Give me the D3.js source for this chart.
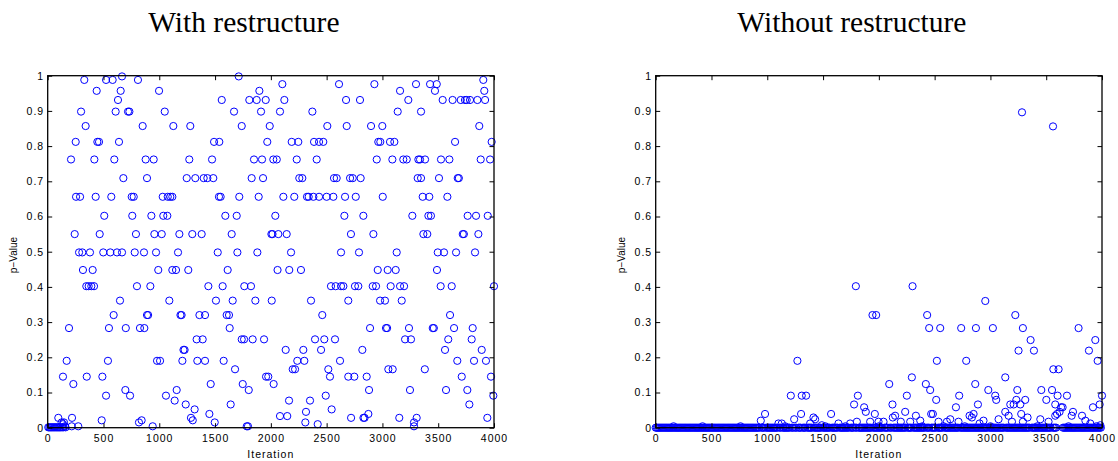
<!DOCTYPE html>
<html>
<head>
<meta charset="utf-8">
<script src="https://cdn.jsdelivr.net/npm/d3@7"></script>
<style>
  body { margin: 0; background: #fff; }
  svg { display: block; }
  .tick text {
    font-family: "Liberation Sans", Arial, sans-serif;
    font-size: 10.5px;
    letter-spacing: 1px;
    fill: #000;
  }
</style>
</head>
<body>
<svg id="chart" width="1118" height="461"></svg>
<script>
const xTicks = [0, 500, 1000, 1500, 2000, 2500, 3000, 3500, 4000];
const xTickLabels = ["0", "500", "1000", "1500", "2000", "2500", "3000", "3500", "4000"];
const yTicks = [0, 0.1, 0.2, 0.3, 0.4, 0.5, 0.6, 0.7, 0.8, 0.9, 1];
const yTickLabels = ["0", "0.1", "0.2", "0.3", "0.4", "0.5", "0.6", "0.7", "0.8", "0.9", "1"];
const titles = ["With restructure", "Without restructure"];

// rows of [p-value, iterations]
const withRows = [
  [0.998, [666, 1712]],
  [0.988, [328, 523, 582, 809, 3904]],
  [0.976, [2103, 2611, 2928, 3301, 3427, 3487]],
  [0.957, [439, 654, 998, 1897, 3158, 3471, 3913]],
  [0.931, [630, 1560, 1807, 1873, 1954, 2121, 2674, 2799, 3232, 3540, 3629, 3702, 3740, 3755, 3785, 3851, 3920]],
  [0.898, [299, 609, 720, 732, 1049, 1670, 1912, 2082, 2372, 3137, 3346]],
  [0.857, [340, 851, 1126, 1278, 1739, 1990, 2506, 2680, 2898, 2999, 3868]],
  [0.812, [251, 445, 460, 639, 1491, 1538, 1968, 2187, 2246, 2387, 2432, 2470, 2963, 2981, 3068, 3107, 3651, 3979]],
  [0.762, [209, 418, 597, 878, 950, 1269, 1473, 1849, 1921, 2022, 2053, 2232, 2411, 2949, 3089, 3187, 3218, 3322, 3337, 3382, 3525, 3600, 3881, 3965]],
  [0.709, [678, 890, 1246, 1323, 1398, 1431, 1484, 1828, 1930, 2255, 2282, 2566, 2590, 2710, 2734, 2805, 3316, 3346, 3507, 3675, 3685]],
  [0.656, [254, 290, 430, 570, 753, 771, 1031, 1076, 1099, 1117, 1535, 1550, 1717, 1891, 2112, 2210, 2324, 2339, 2381, 2432, 2500, 2560, 2665, 2761, 3003, 3361, 3420, 3582]],
  [0.602, [507, 758, 929, 1036, 1072, 1592, 1694, 2040, 2659, 2829, 3268, 3412, 3435, 3764, 3839, 3944]],
  [0.55, [242, 466, 791, 956, 1022, 1180, 1296, 1380, 1649, 2005, 2015, 2067, 2142, 2718, 2919, 3367, 3402, 3720, 3730, 3860]],
  [0.498, [281, 310, 379, 498, 561, 621, 666, 780, 863, 971, 1168, 1524, 1700, 1879, 2181, 2629, 2790, 3128, 3496, 3552, 3660, 3830]],
  [0.448, [316, 403, 991, 1117, 1150, 1260, 1613, 2060, 2165, 2270, 2958, 3047, 3119, 3489]],
  [0.402, [346, 367, 391, 415, 800, 920, 1440, 1568, 1762, 1822, 2539, 2581, 2629, 2650, 2754, 2784, 2913, 2943, 3074, 3158, 3194, 3522, 3621, 4000]],
  [0.361, [648, 1090, 1508, 1658, 1861, 2008, 2360, 2694, 2979, 3023, 3173]],
  [0.32, [591, 890, 900, 1190, 1200, 1360, 1410, 1604, 1625, 2461, 3606]],
  [0.283, [191, 549, 700, 827, 866, 1631, 2889, 3032, 3042, 3238, 3451, 3461, 3642, 3809]],
  [0.251, [1335, 1389, 1739, 1760, 1837, 1939, 2396, 2479, 2575, 3203, 3256, 3590, 3800]],
  [0.221, [1217, 1227, 2133, 2291, 2450, 2820, 3561, 3890]],
  [0.19, [170, 540, 980, 1007, 1207, 1341, 1410, 1577, 2237, 2300, 2620, 3671, 3821, 3928]],
  [0.166, [1679, 2196, 2217, 2515, 3053, 3092, 3380]],
  [0.145, [137, 350, 490, 1957, 1977, 2530, 2694, 2748, 2859, 3711, 3973]],
  [0.124, [230, 1461, 1748, 2025]],
  [0.107, [696, 1156, 1802, 2880, 3247, 3570, 3761]],
  [0.091, [523, 738, 1060, 2492, 3994]],
  [0.077, [1138, 2163, 2351]],
  [0.066, [1237, 1640, 3779]],
  [0.052, [1317, 2545]],
  [0.045, [2315]],
  [0.039, [1449, 2874]],
  [0.033, [2082, 2147]],
  [0.028, [95, 218, 1284, 2719, 2830, 2840, 3151, 3307, 3940]],
  [0.021, [484, 842, 1300]],
  [0.015, [125, 146, 818, 1497, 2309, 3283]],
  [0.01, [137, 2420]],
  [0.004, [155, 215, 274, 941, 1784, 1795, 3283]],
  [0.001, [5, 15, 25, 35, 45, 55, 65, 75, 85, 95, 105, 115, 128, 140, 160]]
];

const withoutRows = [
  [0.896, [3283]],
  [0.856, [3561]],
  [0.402, [1794, 2302]],
  [0.36, [2954]],
  [0.32, [1943, 1976, 2433, 3223]],
  [0.283, [2451, 2550, 2738, 2870, 3022, 3291, 3790]],
  [0.249, [3360, 3940]],
  [0.219, [3252, 3390, 3883]],
  [0.19, [1270, 2520, 2783, 3961]],
  [0.166, [3564, 3611]],
  [0.143, [2296, 3133]],
  [0.124, [2093, 2421, 2864]],
  [0.107, [2460, 2981, 3241, 3456, 3552]],
  [0.091, [1211, 1309, 1348, 1812, 2251, 2720, 3043, 3602, 3686, 4000]],
  [0.079, [2514, 3052, 3232, 3312, 3501]],
  [0.066, [1778, 2122, 2888, 3178, 3208, 3268, 3581, 3979]],
  [0.058, [1868, 2691, 3633, 3647, 3919]],
  [0.045, [1883, 2236, 3133, 3620, 3740]],
  [0.039, [980, 1303, 1572, 1964, 2469, 2484, 2849, 3276, 3597]],
  [0.034, [2146, 2332, 2813, 3163, 3581, 3728, 3821]],
  [0.029, [1414, 2125, 2834, 3333]],
  [0.024, [1241, 1429, 2640, 3073, 3447]],
  [0.02, [942, 2371, 2938, 3851]],
  [0.017, [1803, 1922, 1997, 2042, 2197, 2281, 2535, 2610, 2714, 3193, 3291, 3521]],
  [0.012, [1100, 1130, 1384, 1638, 1743, 2903, 3895]],
  [0.007, [1489, 3985]],
  [0.004, [160, 420, 760, 1160, 1520, 1700, 2000, 2390, 2580, 2770, 3000, 3420, 3700, 3950]],
  [0, [0, 10, 20, 30, 40, 50, 60, 70, 80, 90, 100, 110, 120, 130, 140, 150, 160, 170, 180, 190,
       200, 210, 220, 230, 240, 250, 260, 270, 280, 290, 300, 310, 320, 330, 340, 350, 360, 370, 380, 390,
       400, 410, 420, 430, 440, 450, 460, 470, 480, 490, 500, 510, 520, 530, 540, 550, 560, 570, 580, 590,
       600, 610, 620, 630, 640, 650, 660, 670, 680, 690, 700, 710, 720, 730, 740, 750, 760, 770, 780, 790,
       800, 810, 820, 830, 840, 850, 860, 870, 880, 890, 900, 910, 920, 930, 950, 960, 970, 990,
       1000, 1010, 1020, 1030, 1040, 1050, 1060, 1070, 1080, 1090, 1110, 1120, 1140, 1150, 1160, 1170, 1180, 1190,
       1200, 1220, 1230, 1250, 1260, 1280, 1290, 1300, 1320, 1330, 1340, 1360, 1370, 1380, 1390,
       1400, 1420, 1430, 1440, 1450, 1460, 1470, 1480, 1500, 1510, 1520, 1530, 1540, 1550, 1560, 1580, 1590,
       1600, 1610, 1620, 1630, 1650, 1660, 1670, 1680, 1690, 1700, 1710, 1720, 1730, 1750, 1760, 1770, 1790,
       1800, 1820, 1830, 1840, 1850, 1860, 1870, 1880, 1890, 1900, 1910, 1920, 1930, 1950, 1960, 1970, 1980, 1990,
       2000, 2010, 2020, 2030, 2050, 2060, 2070, 2080, 2100, 2110, 2130, 2140, 2150, 2160, 2170, 2180, 2190,
       2200, 2210, 2220, 2230, 2240, 2260, 2270, 2280, 2290, 2310, 2320, 2330, 2340, 2350, 2360, 2370, 2380, 2390,
       2400, 2410, 2430, 2440, 2450, 2470, 2480, 2490, 2500, 2510, 2530, 2540, 2550, 2560, 2570, 2590,
       2600, 2610, 2620, 2630, 2640, 2650, 2660, 2670, 2680, 2690, 2700, 2710, 2730, 2740, 2750, 2760, 2770, 2780, 2790,
       2800, 2810, 2820, 2830, 2840, 2850, 2860, 2870, 2880, 2890, 2900, 2910, 2920, 2930, 2940, 2950, 2960, 2970, 2990,
       3000, 3010, 3020, 3030, 3040, 3050, 3060, 3070, 3080, 3090, 3100, 3110, 3120, 3140, 3150, 3160, 3170, 3180, 3190,
       3200, 3210, 3220, 3230, 3240, 3250, 3260, 3270, 3280, 3290, 3300, 3310, 3320, 3330, 3340, 3350, 3370, 3380, 3390,
       3400, 3410, 3420, 3430, 3440, 3450, 3460, 3470, 3480, 3490, 3500, 3510, 3520, 3530, 3540, 3560, 3570, 3580, 3590,
       3650, 3660, 3670, 3680, 3690, 3700, 3710, 3720, 3730, 3740, 3750, 3760, 3770, 3780, 3790,
       3800, 3810, 3820, 3830, 3840, 3850, 3860, 3870, 3880, 3890, 3900, 3910, 3920, 3930, 3940, 3950, 3960, 3970, 3980, 3990]]
];

const plotW = 446.3, plotH = 352, plotTop = 75.7;
const panelLeft = [47.7, 655.7];

const svg = d3.select("#chart");
svg.append("rect").attr("width", 1118).attr("height", 461).attr("fill", "#fff");

function toPoints(rows) {
  return rows.flatMap(([p, its]) => its.map((it) => ({ it, p })));
}

function drawPanel(left, title, rows) {
  const x = d3.scaleLinear().domain([0, 4000]).range([left, left + plotW]);
  const y = d3.scaleLinear().domain([0, 1]).range([plotTop + plotH, plotTop]);
  const g = svg.append("g");

  g.append("g")
    .selectAll("circle")
    .data(toPoints(rows))
    .join("circle")
    .attr("cx", (d) => x(d.it))
    .attr("cy", (d) => y(d.p))
    .attr("r", 3.6)
    .attr("fill", "none")
    .attr("stroke", "#0000ff")
    .attr("stroke-width", 1);

  const noDomain = (a) => a.select(".domain").remove();

  g.append("g")
    .attr("transform", `translate(0,${plotTop + plotH})`)
    .call(d3.axisBottom(x).tickValues(xTicks).tickSizeInner(-4.5).tickSizeOuter(0).tickPadding(7)
      .tickFormat((d, i) => xTickLabels[i]))
    .call(noDomain);
  g.append("g")
    .attr("transform", `translate(0,${plotTop})`)
    .call(d3.axisTop(x).tickValues(xTicks).tickSizeInner(-4.5).tickSizeOuter(0).tickFormat(""))
    .call(noDomain);
  g.append("g")
    .attr("transform", `translate(${left},0)`)
    .call(d3.axisLeft(y).tickValues(yTicks).tickSizeInner(-4.5).tickSizeOuter(0).tickPadding(3.5)
      .tickFormat((d, i) => yTickLabels[i]))
    .call(noDomain);
  g.append("g")
    .attr("transform", `translate(${left + plotW},0)`)
    .call(d3.axisRight(y).tickValues(yTicks).tickSizeInner(-4.5).tickSizeOuter(0).tickFormat(""))
    .call(noDomain);

  g.selectAll(".tick line").attr("stroke", "#000");

  g.append("rect")
    .attr("x", left)
    .attr("y", plotTop)
    .attr("width", plotW)
    .attr("height", plotH)
    .attr("fill", "none")
    .attr("stroke", "#000")
    .attr("stroke-width", 1.3);

  g.append("text")
    .attr("x", left + plotW / 2 - 27)
    .attr("y", 32)
    .attr("text-anchor", "middle")
    .style("font-family", '"Liberation Serif", "Times New Roman", serif')
    .style("font-size", "29.5px")
    .text(title);

  g.append("text")
    .attr("x", left + plotW / 2)
    .attr("y", 458)
    .attr("text-anchor", "middle")
    .style("font-family", '"Liberation Sans", Arial, sans-serif')
    .style("font-size", "10.5px")
    .style("letter-spacing", "1px")
    .text("Iteration");

  g.append("text")
    .attr("transform", `translate(${left - 31},255) rotate(-90)`)
    .attr("text-anchor", "middle")
    .style("font-family", '"Liberation Sans", Arial, sans-serif')
    .style("font-size", "10px")
    .text("p\u2212Value");
}

drawPanel(panelLeft[0], titles[0], withRows);
drawPanel(panelLeft[1], titles[1], withoutRows);
</script>
</body>
</html>
